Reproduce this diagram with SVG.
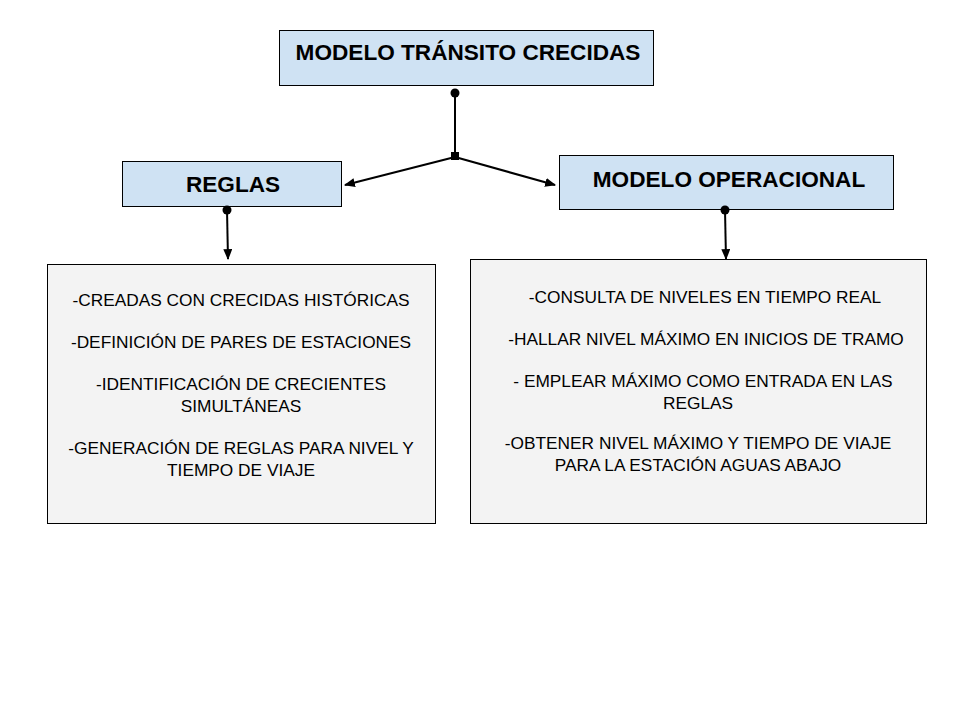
<svg xmlns="http://www.w3.org/2000/svg" width="960" height="720" viewBox="0 0 960 720">
<defs>
<style>
.hdr{fill:#cfe2f3;stroke:#000;stroke-width:1}
.body{fill:#f3f3f3;stroke:#000;stroke-width:1}
.ht{font-family:"Liberation Sans",Arial,sans-serif;font-weight:bold;font-size:22.6px;fill:#000;text-anchor:middle}
.bt{font-family:"Liberation Sans",Arial,sans-serif;font-size:17.3px;fill:#000;text-anchor:middle}
.con{stroke:#000;stroke-width:2;fill:none}
</style>
<marker id="arr" viewBox="0 0 10 10" refX="9" refY="5" markerWidth="11" markerHeight="9" markerUnits="userSpaceOnUse" orient="auto" preserveAspectRatio="none">
<path d="M0,0 L10,5 L0,10 z" fill="#000"/>
</marker>
</defs>
<rect width="960" height="720" fill="#fff"/>
<g id="top">
<rect class="hdr" x="279.5" y="30.5" width="374" height="55"/>
<text class="ht" x="468" y="60">MODELO TRÁNSITO CRECIDAS</text>
</g>
<g id="reglas">
<rect class="hdr" x="122.5" y="161.5" width="219" height="45"/>
<text class="ht" x="233" y="192">REGLAS</text>
</g>
<g id="operacional">
<rect class="hdr" x="559.5" y="155.5" width="334" height="54"/>
<text class="ht" x="729" y="187">MODELO OPERACIONAL</text>
</g>
<g id="reglas-detalle">
<rect class="body" x="47.5" y="264.5" width="388" height="259"/>
<text class="bt" x="241" y="306">-CREADAS CON CRECIDAS HISTÓRICAS</text>
<text class="bt" x="241" y="348">-DEFINICIÓN DE PARES DE ESTACIONES</text>
<text class="bt" x="241" y="390">-IDENTIFICACIÓN DE CRECIENTES</text>
<text class="bt" x="241" y="412">SIMULTÁNEAS</text>
<text class="bt" x="241" y="454">-GENERACIÓN DE REGLAS PARA NIVEL Y</text>
<text class="bt" x="241" y="476">TIEMPO DE VIAJE</text>
</g>
<g id="operacional-detalle">
<rect class="body" x="470.5" y="259.5" width="456" height="264"/>
<text class="bt" x="705" y="303">-CONSULTA DE NIVELES EN TIEMPO REAL</text>
<text class="bt" x="706" y="345">-HALLAR NIVEL MÁXIMO EN INICIOS DE TRAMO</text>
<text class="bt" x="703" y="387">- EMPLEAR MÁXIMO COMO ENTRADA EN LAS</text>
<text class="bt" x="698" y="409">REGLAS</text>
<text class="bt" x="698" y="449">-OBTENER NIVEL MÁXIMO Y TIEMPO DE VIAJE</text>
<text class="bt" x="698" y="471">PARA LA ESTACIÓN AGUAS ABAJO</text>
</g>
<g id="connectors">
<circle cx="455" cy="93" r="4.5" fill="#000"/>
<line class="con" x1="455" y1="93" x2="455" y2="156"/>
<rect x="451" y="152" width="8" height="8" fill="#000"/>
<line class="con" x1="455" y1="157" x2="345" y2="185" marker-end="url(#arr)"/>
<line class="con" x1="455" y1="157" x2="555" y2="185" marker-end="url(#arr)"/>
<circle cx="227" cy="210" r="4.5" fill="#000"/>
<line class="con" x1="227" y1="210" x2="228" y2="259" marker-end="url(#arr)"/>
<circle cx="725" cy="210" r="4.5" fill="#000"/>
<line class="con" x1="725" y1="210" x2="726" y2="259" marker-end="url(#arr)"/>
</g>
</svg>
